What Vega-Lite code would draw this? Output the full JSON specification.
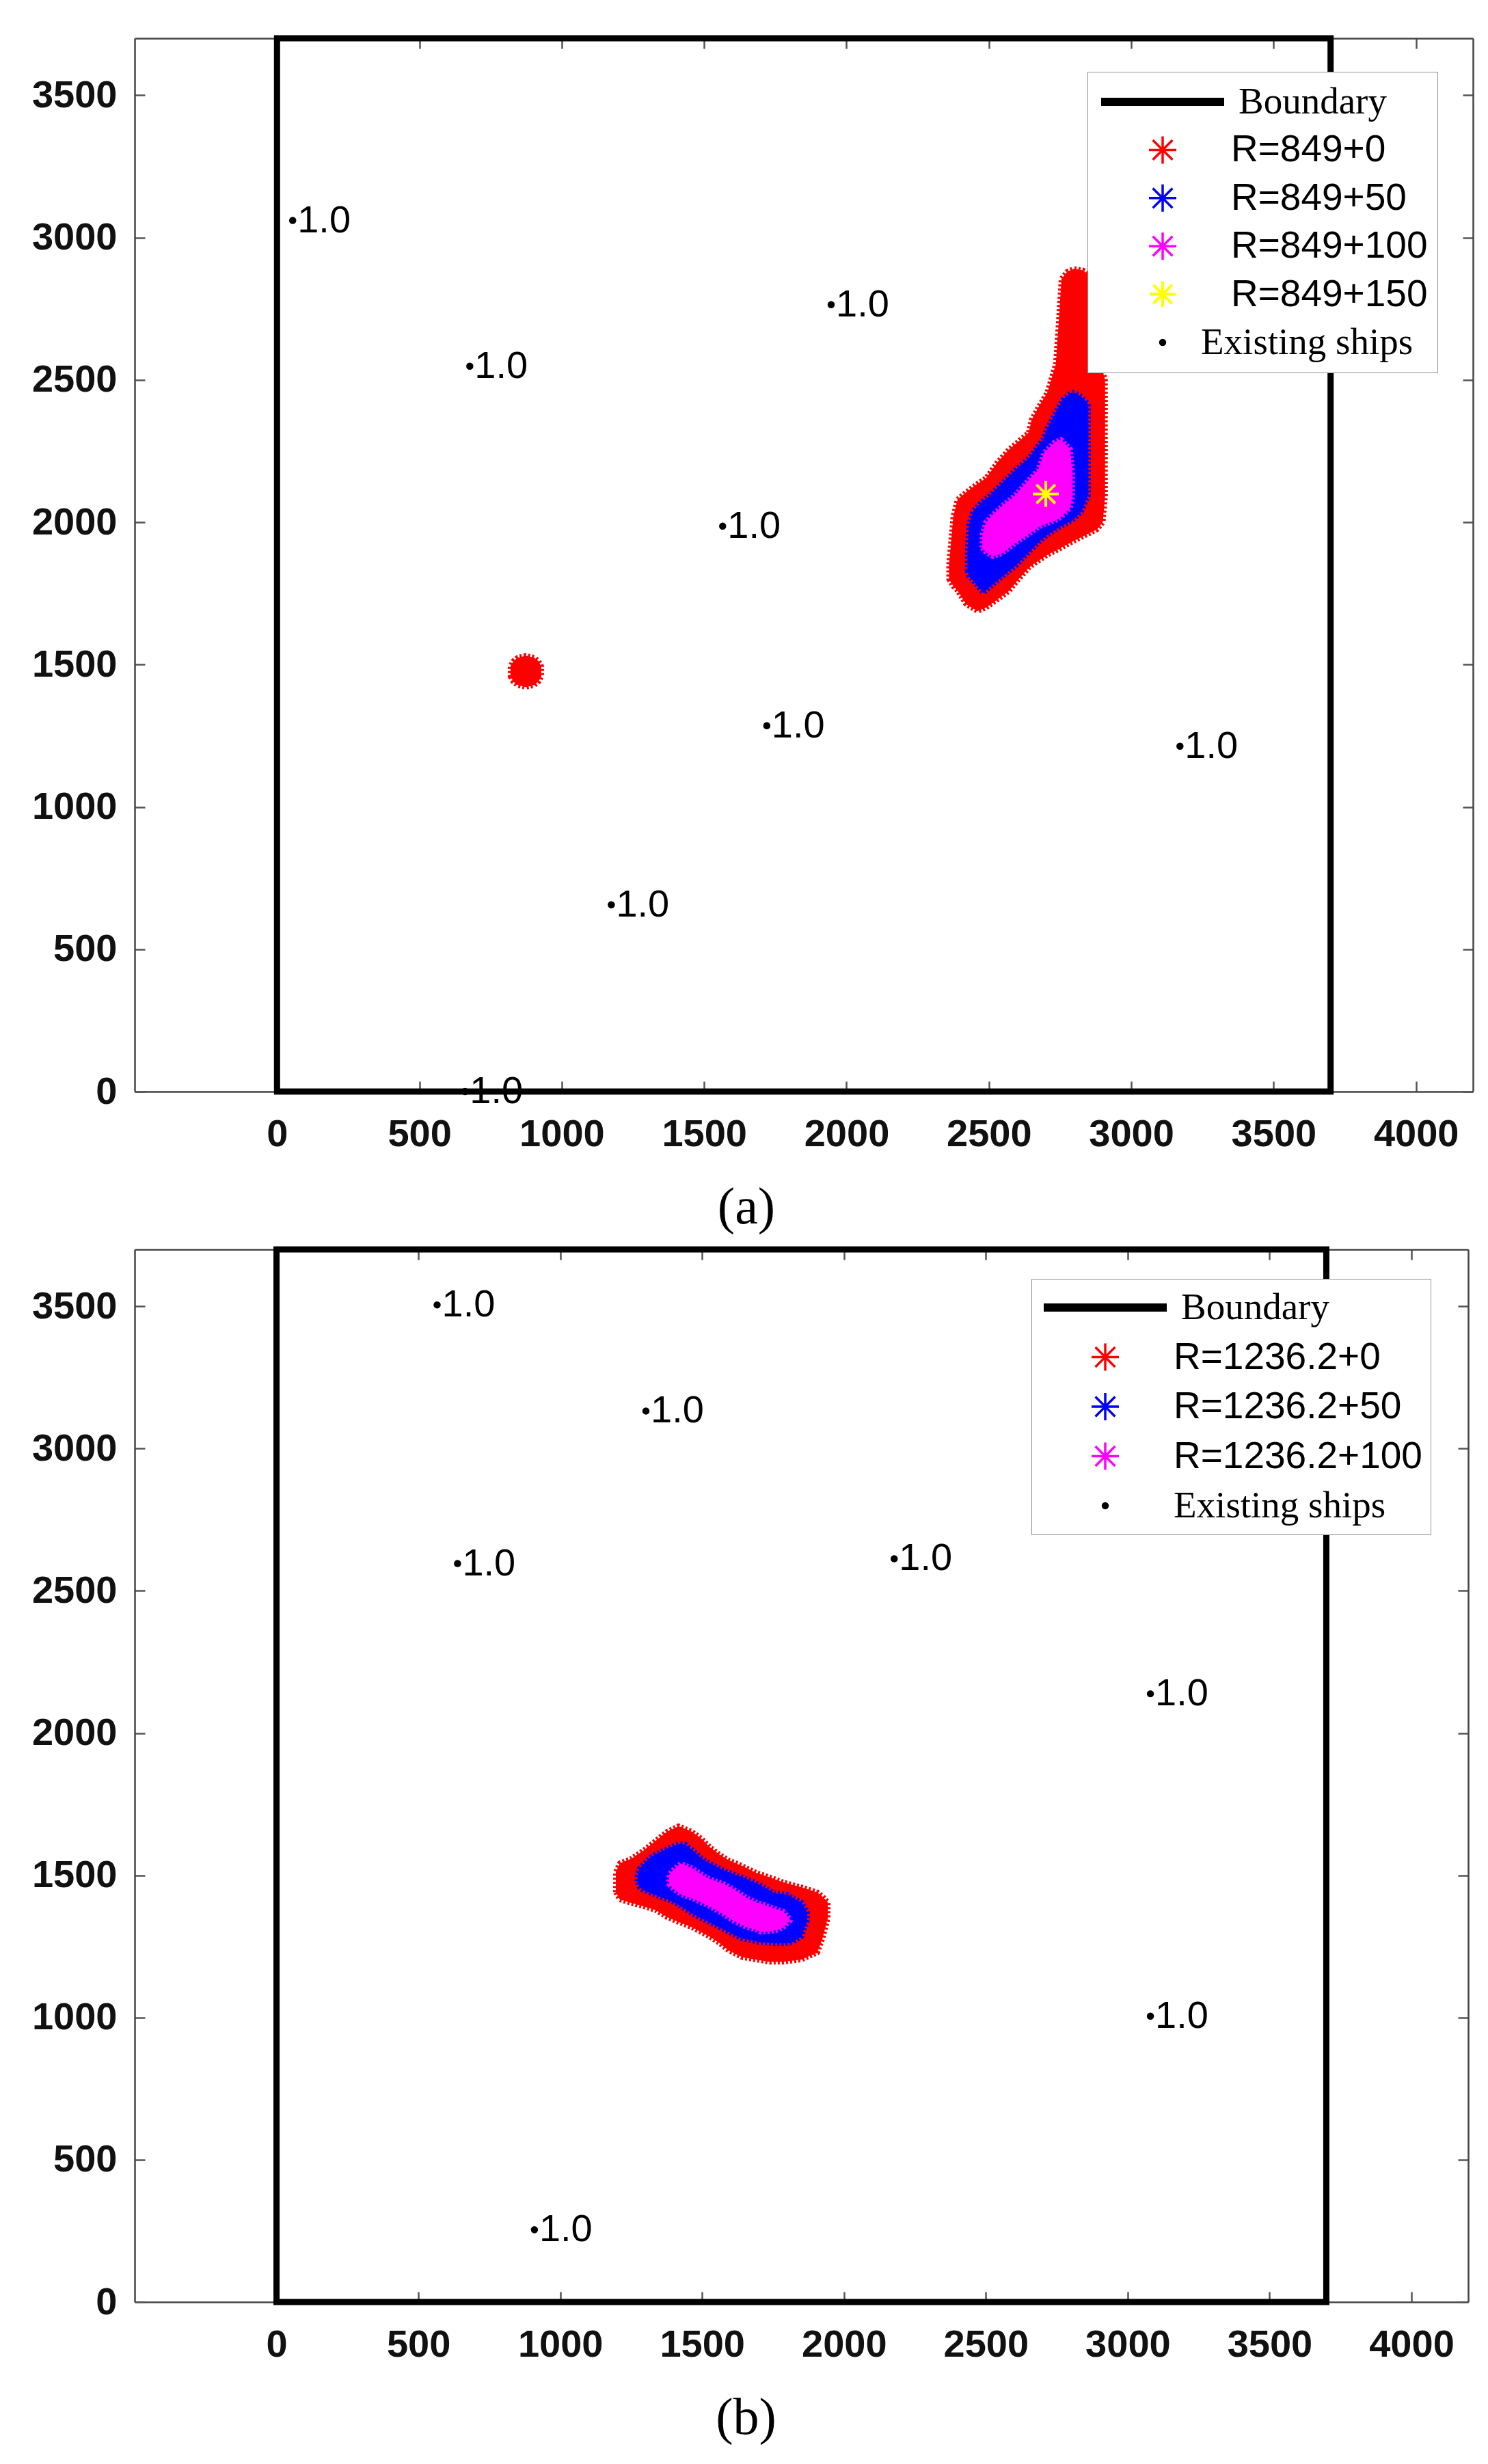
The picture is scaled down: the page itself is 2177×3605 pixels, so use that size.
{
  "$schema": "https://vega.github.io/schema/vega-lite/v6.json",
  "background": "white",
  "padding": {"left": 46, "top": 51, "right": 5, "bottom": 5},
  "config": {
    "font": "Liberation Sans",
    "view": {"stroke": null},
    "axis": {
      "grid": false,
      "domainColor": "#444444",
      "domainWidth": 2.5,
      "tickColor": "#555555",
      "tickWidth": 2.5,
      "tickSize": -15,
      "labelFont": "Liberation Sans",
      "labelFontSize": 56,
      "labelFontWeight": "bold",
      "labelColor": "#111111",
      "labelFlush": false,
      "labelOverlap": false,
      "format": "d"
    }
  },
  "datasets": {
    "boundaryA": [{"x0": 0, "x1": 3700, "y0": 0, "y1": 3700, "series": "Boundary"}],
    "boundaryB": [{"x0": 0, "x1": 3700, "y0": 0, "y1": 3700, "series": "Boundary"}],
    "regionsA": [
      {"series": "R=849+0", "part": "r1", "x": 2360, "lo": 1800, "hi": 1850},
      {"series": "R=849+0", "part": "r1", "x": 2375, "lo": 1775, "hi": 2020},
      {"series": "R=849+0", "part": "r1", "x": 2390, "lo": 1760, "hi": 2080},
      {"series": "R=849+0", "part": "r1", "x": 2420, "lo": 1712, "hi": 2105},
      {"series": "R=849+0", "part": "r1", "x": 2460, "lo": 1688, "hi": 2135},
      {"series": "R=849+0", "part": "r1", "x": 2490, "lo": 1700, "hi": 2155},
      {"series": "R=849+0", "part": "r1", "x": 2530, "lo": 1728, "hi": 2210},
      {"series": "R=849+0", "part": "r1", "x": 2570, "lo": 1758, "hi": 2255},
      {"series": "R=849+0", "part": "r1", "x": 2600, "lo": 1795, "hi": 2280},
      {"series": "R=849+0", "part": "r1", "x": 2640, "lo": 1840, "hi": 2315},
      {"series": "R=849+0", "part": "r1", "x": 2650, "lo": 1848, "hi": 2360},
      {"series": "R=849+0", "part": "r1", "x": 2675, "lo": 1865, "hi": 2405},
      {"series": "R=849+0", "part": "r1", "x": 2705, "lo": 1885, "hi": 2455},
      {"series": "R=849+0", "part": "r1", "x": 2720, "lo": 1893, "hi": 2505},
      {"series": "R=849+0", "part": "r1", "x": 2735, "lo": 1900, "hi": 2555},
      {"series": "R=849+0", "part": "r1", "x": 2745, "lo": 1905, "hi": 2700},
      {"series": "R=849+0", "part": "r1", "x": 2755, "lo": 1911, "hi": 2855},
      {"series": "R=849+0", "part": "r1", "x": 2775, "lo": 1922, "hi": 2880},
      {"series": "R=849+0", "part": "r1", "x": 2800, "lo": 1935, "hi": 2890},
      {"series": "R=849+0", "part": "r1", "x": 2830, "lo": 1950, "hi": 2885},
      {"series": "R=849+0", "part": "r1", "x": 2850, "lo": 1960, "hi": 2870},
      {"series": "R=849+0", "part": "r1", "x": 2856, "lo": 1963, "hi": 2540},
      {"series": "R=849+0", "part": "r1", "x": 2880, "lo": 1975, "hi": 2540},
      {"series": "R=849+0", "part": "r1", "x": 2900, "lo": 2000, "hi": 2530},
      {"series": "R=849+0", "part": "r1", "x": 2908, "lo": 2090, "hi": 2500},
      {"series": "R=849+0", "part": "r2", "x": 820, "lo": 1458, "hi": 1494},
      {"series": "R=849+0", "part": "r2", "x": 830, "lo": 1440, "hi": 1512},
      {"series": "R=849+0", "part": "r2", "x": 845, "lo": 1428, "hi": 1524},
      {"series": "R=849+0", "part": "r2", "x": 874, "lo": 1421, "hi": 1531},
      {"series": "R=849+0", "part": "r2", "x": 903, "lo": 1428, "hi": 1524},
      {"series": "R=849+0", "part": "r2", "x": 918, "lo": 1440, "hi": 1512},
      {"series": "R=849+0", "part": "r2", "x": 928, "lo": 1458, "hi": 1494},
      {"series": "R=849+50", "part": "b1", "x": 2425, "lo": 1830, "hi": 1900},
      {"series": "R=849+50", "part": "b1", "x": 2430, "lo": 1810, "hi": 1990},
      {"series": "R=849+50", "part": "b1", "x": 2445, "lo": 1795, "hi": 2040},
      {"series": "R=849+50", "part": "b1", "x": 2480, "lo": 1752, "hi": 2075},
      {"series": "R=849+50", "part": "b1", "x": 2500, "lo": 1770, "hi": 2090},
      {"series": "R=849+50", "part": "b1", "x": 2545, "lo": 1808, "hi": 2135},
      {"series": "R=849+50", "part": "b1", "x": 2595, "lo": 1848, "hi": 2185},
      {"series": "R=849+50", "part": "b1", "x": 2640, "lo": 1895, "hi": 2225},
      {"series": "R=849+50", "part": "b1", "x": 2675, "lo": 1930, "hi": 2272},
      {"series": "R=849+50", "part": "b1", "x": 2690, "lo": 1943, "hi": 2290},
      {"series": "R=849+50", "part": "b1", "x": 2705, "lo": 1955, "hi": 2328},
      {"series": "R=849+50", "part": "b1", "x": 2730, "lo": 1972, "hi": 2376},
      {"series": "R=849+50", "part": "b1", "x": 2760, "lo": 1990, "hi": 2432},
      {"series": "R=849+50", "part": "b1", "x": 2790, "lo": 2005, "hi": 2455},
      {"series": "R=849+50", "part": "b1", "x": 2800, "lo": 2012, "hi": 2455},
      {"series": "R=849+50", "part": "b1", "x": 2825, "lo": 2038, "hi": 2440},
      {"series": "R=849+50", "part": "b1", "x": 2849, "lo": 2095, "hi": 2415},
      {"series": "R=849+100", "part": "m1", "x": 2477, "lo": 1910, "hi": 1955},
      {"series": "R=849+100", "part": "m1", "x": 2490, "lo": 1895, "hi": 2000},
      {"series": "R=849+100", "part": "m1", "x": 2513, "lo": 1880, "hi": 2025},
      {"series": "R=849+100", "part": "m1", "x": 2545, "lo": 1890, "hi": 2055},
      {"series": "R=849+100", "part": "m1", "x": 2593, "lo": 1927, "hi": 2095},
      {"series": "R=849+100", "part": "m1", "x": 2635, "lo": 1955, "hi": 2143},
      {"series": "R=849+100", "part": "m1", "x": 2673, "lo": 1982, "hi": 2183},
      {"series": "R=849+100", "part": "m1", "x": 2695, "lo": 1993, "hi": 2245},
      {"series": "R=849+100", "part": "m1", "x": 2730, "lo": 2005, "hi": 2280},
      {"series": "R=849+100", "part": "m1", "x": 2753, "lo": 2018, "hi": 2290},
      {"series": "R=849+100", "part": "m1", "x": 2785, "lo": 2050, "hi": 2258},
      {"series": "R=849+100", "part": "m1", "x": 2793, "lo": 2090, "hi": 2175}
    ],
    "starA": [{"series": "R=849+150", "x": 2700, "y": 2099}],
    "shipsA": [
      {"series": "Existing ships", "x": 55, "y": 3060, "label": "1.0"},
      {"series": "Existing ships", "x": 677, "y": 2548, "label": "1.0"},
      {"series": "Existing ships", "x": 1946, "y": 2764, "label": "1.0"},
      {"series": "Existing ships", "x": 1565, "y": 1986, "label": "1.0"},
      {"series": "Existing ships", "x": 1720, "y": 1285, "label": "1.0"},
      {"series": "Existing ships", "x": 3171, "y": 1213, "label": "1.0"},
      {"series": "Existing ships", "x": 1174, "y": 656, "label": "1.0"},
      {"series": "Existing ships", "x": 660, "y": 0, "label": "1.0"}
    ],
    "regionsB": [
      {"series": "R=1236.2+0", "part": "r1", "x": 1196, "lo": 1440, "hi": 1512},
      {"series": "R=1236.2+0", "part": "r1", "x": 1210, "lo": 1415, "hi": 1542},
      {"series": "R=1236.2+0", "part": "r1", "x": 1250, "lo": 1403, "hi": 1558},
      {"series": "R=1236.2+0", "part": "r1", "x": 1296, "lo": 1390, "hi": 1589},
      {"series": "R=1236.2+0", "part": "r1", "x": 1336, "lo": 1378, "hi": 1621},
      {"series": "R=1236.2+0", "part": "r1", "x": 1376, "lo": 1353, "hi": 1653},
      {"series": "R=1236.2+0", "part": "r1", "x": 1417, "lo": 1336, "hi": 1673},
      {"series": "R=1236.2+0", "part": "r1", "x": 1465, "lo": 1317, "hi": 1653},
      {"series": "R=1236.2+0", "part": "r1", "x": 1497, "lo": 1300, "hi": 1629},
      {"series": "R=1236.2+0", "part": "r1", "x": 1529, "lo": 1283, "hi": 1597},
      {"series": "R=1236.2+0", "part": "r1", "x": 1561, "lo": 1262, "hi": 1573},
      {"series": "R=1236.2+0", "part": "r1", "x": 1593, "lo": 1236, "hi": 1553},
      {"series": "R=1236.2+0", "part": "r1", "x": 1641, "lo": 1212, "hi": 1533},
      {"series": "R=1236.2+0", "part": "r1", "x": 1690, "lo": 1204, "hi": 1509},
      {"series": "R=1236.2+0", "part": "r1", "x": 1738, "lo": 1196, "hi": 1493},
      {"series": "R=1236.2+0", "part": "r1", "x": 1786, "lo": 1196, "hi": 1475},
      {"series": "R=1236.2+0", "part": "r1", "x": 1850, "lo": 1204, "hi": 1458},
      {"series": "R=1236.2+0", "part": "r1", "x": 1906, "lo": 1228, "hi": 1440},
      {"series": "R=1236.2+0", "part": "r1", "x": 1925, "lo": 1280, "hi": 1425},
      {"series": "R=1236.2+0", "part": "r1", "x": 1943, "lo": 1350, "hi": 1405},
      {"series": "R=1236.2+50", "part": "b1", "x": 1272, "lo": 1475, "hi": 1500},
      {"series": "R=1236.2+50", "part": "b1", "x": 1280, "lo": 1458, "hi": 1525},
      {"series": "R=1236.2+50", "part": "b1", "x": 1290, "lo": 1450, "hi": 1535},
      {"series": "R=1236.2+50", "part": "b1", "x": 1320, "lo": 1437, "hi": 1565},
      {"series": "R=1236.2+50", "part": "b1", "x": 1384, "lo": 1413, "hi": 1597},
      {"series": "R=1236.2+50", "part": "b1", "x": 1420, "lo": 1395, "hi": 1610},
      {"series": "R=1236.2+50", "part": "b1", "x": 1441, "lo": 1381, "hi": 1608},
      {"series": "R=1236.2+50", "part": "b1", "x": 1465, "lo": 1366, "hi": 1589},
      {"series": "R=1236.2+50", "part": "b1", "x": 1497, "lo": 1349, "hi": 1560},
      {"series": "R=1236.2+50", "part": "b1", "x": 1513, "lo": 1341, "hi": 1549},
      {"series": "R=1236.2+50", "part": "b1", "x": 1561, "lo": 1317, "hi": 1525},
      {"series": "R=1236.2+50", "part": "b1", "x": 1577, "lo": 1309, "hi": 1517},
      {"series": "R=1236.2+50", "part": "b1", "x": 1625, "lo": 1285, "hi": 1498},
      {"series": "R=1236.2+50", "part": "b1", "x": 1641, "lo": 1278, "hi": 1493},
      {"series": "R=1236.2+50", "part": "b1", "x": 1698, "lo": 1266, "hi": 1469},
      {"series": "R=1236.2+50", "part": "b1", "x": 1754, "lo": 1261, "hi": 1437},
      {"series": "R=1236.2+50", "part": "b1", "x": 1802, "lo": 1261, "hi": 1432},
      {"series": "R=1236.2+50", "part": "b1", "x": 1818, "lo": 1265, "hi": 1421},
      {"series": "R=1236.2+50", "part": "b1", "x": 1850, "lo": 1285, "hi": 1405},
      {"series": "R=1236.2+50", "part": "b1", "x": 1870, "lo": 1341, "hi": 1370},
      {"series": "R=1236.2+100", "part": "m1", "x": 1384, "lo": 1468, "hi": 1502},
      {"series": "R=1236.2+100", "part": "m1", "x": 1400, "lo": 1452, "hi": 1520},
      {"series": "R=1236.2+100", "part": "m1", "x": 1425, "lo": 1433, "hi": 1541},
      {"series": "R=1236.2+100", "part": "m1", "x": 1465, "lo": 1419, "hi": 1525},
      {"series": "R=1236.2+100", "part": "m1", "x": 1513, "lo": 1398, "hi": 1493},
      {"series": "R=1236.2+100", "part": "m1", "x": 1545, "lo": 1381, "hi": 1480},
      {"series": "R=1236.2+100", "part": "m1", "x": 1577, "lo": 1362, "hi": 1469},
      {"series": "R=1236.2+100", "part": "m1", "x": 1609, "lo": 1341, "hi": 1452},
      {"series": "R=1236.2+100", "part": "m1", "x": 1633, "lo": 1330, "hi": 1437},
      {"series": "R=1236.2+100", "part": "m1", "x": 1658, "lo": 1317, "hi": 1420},
      {"series": "R=1236.2+100", "part": "m1", "x": 1690, "lo": 1309, "hi": 1405},
      {"series": "R=1236.2+100", "part": "m1", "x": 1706, "lo": 1301, "hi": 1400},
      {"series": "R=1236.2+100", "part": "m1", "x": 1738, "lo": 1303, "hi": 1389},
      {"series": "R=1236.2+100", "part": "m1", "x": 1770, "lo": 1309, "hi": 1378},
      {"series": "R=1236.2+100", "part": "m1", "x": 1786, "lo": 1318, "hi": 1373},
      {"series": "R=1236.2+100", "part": "m1", "x": 1810, "lo": 1341, "hi": 1345}
    ],
    "shipsB": [
      {"series": "Existing ships", "x": 566, "y": 3505, "label": "1.0"},
      {"series": "Existing ships", "x": 1302, "y": 3132, "label": "1.0"},
      {"series": "Existing ships", "x": 638, "y": 2596, "label": "1.0"},
      {"series": "Existing ships", "x": 2177, "y": 2613, "label": "1.0"},
      {"series": "Existing ships", "x": 3080, "y": 2138, "label": "1.0"},
      {"series": "Existing ships", "x": 3080, "y": 1005, "label": "1.0"},
      {"series": "Existing ships", "x": 909, "y": 254, "label": "1.0"}
    ]
  },
  "resolve": {"scale": {"color": "independent", "shape": "independent", "size": "independent", "strokeWidth": "independent"}, "legend": {"color": "independent", "shape": "independent", "size": "independent", "strokeWidth": "independent"}},
  "spacing": 18,
  "vconcat": [
    {
      "width": 1958,
      "height": 1541,
      "title": {"text": "(a)", "orient": "bottom", "anchor": "middle", "dx": -84, "offset": 43, "font": "Liberation Serif", "fontSize": 76, "fontWeight": "normal", "color": "black"},
      "resolve": {"axis": {"x": "independent", "y": "independent"}},
      "layer": [
        {
          "data": {"name": "boundaryA"},
          "mark": {"type": "rect", "filled": false, "strokeWidth": 9},
          "encoding": {
            "x": {"field": "x0", "type": "quantitative", "scale": {"domain": [-500, 4200], "nice": false, "zero": false},
                  "axis": {"orient": "bottom", "title": null, "values": [0, 500, 1000, 1500, 2000, 2500, 3000, 3500, 4000], "labelPadding": 50}},
            "x2": {"field": "x1"},
            "y": {"field": "y0", "type": "quantitative", "scale": {"domain": [0, 3700], "nice": false, "zero": false},
                  "axis": {"orient": "left", "title": null, "values": [0, 500, 1000, 1500, 2000, 2500, 3000, 3500], "labelPadding": 41}},
            "y2": {"field": "y1"},
            "color": {
              "field": "series", "type": "nominal",
              "scale": {"domain": ["Boundary", "R=849+0", "R=849+50", "R=849+100", "R=849+150", "Existing ships"], "range": ["#000000", "#ff0000", "#0000ff", "#ff00ff", "#ffff00", "#000000"]},
              "legend": {
                "title": null,
                "orient": "none",
                "legendX": 1394,
                "legendY": 49,
                "padding": 14,
                "fillColor": "white",
                "strokeColor": "#8f8f8f",
                "clipHeight": 60,
                "rowPadding": 10.4,
                "labelLimit": 800,
                "labelColor": "black",
                "labelFontSize": 55,
                "labelFont": {"expr": "datum.value === 'Boundary' || datum.value === 'Existing ships' ? 'Liberation Serif' : 'Liberation Sans'"},
                "labelOffset": {"expr": "datum.value === 'Boundary' ? 15 : datum.value === 'Existing ships' ? -40 : 4"}
              }
            }
          }
        },
        {
          "data": {"name": "regionsA"},
          "transform": [{"filter": "datum.series === 'R=849+0'"}],
          "mark": {"type": "area", "stroke": "#ff0000", "strokeWidth": 8, "strokeDash": [3, 3], "strokeJoin": "round", "opacity": 1},
          "encoding": {
            "x": {"field": "x", "type": "quantitative", "scale": {"domain": [-500, 4200], "nice": false, "zero": false}, "axis": null},
            "y": {"field": "lo", "type": "quantitative", "scale": {"domain": [0, 3700], "nice": false, "zero": false}, "axis": null},
            "y2": {"field": "hi"},
            "detail": {"field": "part", "type": "nominal"},
            "color": {"field": "series", "type": "nominal", "scale": {"domain": ["Boundary", "R=849+0", "R=849+50", "R=849+100", "R=849+150", "Existing ships"], "range": ["#000000", "#ff0000", "#0000ff", "#ff00ff", "#ffff00", "#000000"]}}
          }
        },
        {
          "data": {"name": "regionsA"},
          "transform": [{"filter": "datum.series === 'R=849+50'"}],
          "mark": {"type": "area", "stroke": "#0000ff", "strokeWidth": 8, "strokeDash": [3, 3], "strokeJoin": "round", "opacity": 1},
          "encoding": {
            "x": {"field": "x", "type": "quantitative", "scale": {"domain": [-500, 4200], "nice": false, "zero": false}, "axis": null},
            "y": {"field": "lo", "type": "quantitative", "scale": {"domain": [0, 3700], "nice": false, "zero": false}, "axis": null},
            "y2": {"field": "hi"},
            "detail": {"field": "part", "type": "nominal"},
            "color": {"field": "series", "type": "nominal", "scale": {"domain": ["Boundary", "R=849+0", "R=849+50", "R=849+100", "R=849+150", "Existing ships"], "range": ["#000000", "#ff0000", "#0000ff", "#ff00ff", "#ffff00", "#000000"]}}
          }
        },
        {
          "data": {"name": "regionsA"},
          "transform": [{"filter": "datum.series === 'R=849+100'"}],
          "mark": {"type": "area", "stroke": "#ff00ff", "strokeWidth": 8, "strokeDash": [3, 3], "strokeJoin": "round", "opacity": 1},
          "encoding": {
            "x": {"field": "x", "type": "quantitative", "scale": {"domain": [-500, 4200], "nice": false, "zero": false}, "axis": null},
            "y": {"field": "lo", "type": "quantitative", "scale": {"domain": [0, 3700], "nice": false, "zero": false}, "axis": null},
            "y2": {"field": "hi"},
            "detail": {"field": "part", "type": "nominal"},
            "color": {"field": "series", "type": "nominal", "scale": {"domain": ["Boundary", "R=849+0", "R=849+50", "R=849+100", "R=849+150", "Existing ships"], "range": ["#000000", "#ff0000", "#0000ff", "#ff00ff", "#ffff00", "#000000"]}}
          }
        },
        {
          "data": {"name": "starA"},
          "mark": {"type": "point", "filled": false, "opacity": 1},
          "encoding": {
            "x": {"field": "x", "type": "quantitative", "scale": {"domain": [-500, 4200], "nice": false, "zero": false}, "axis": null},
            "y": {"field": "y", "type": "quantitative", "scale": {"domain": [0, 3700], "nice": false, "zero": false}, "axis": null},
            "color": {"field": "series", "type": "nominal", "scale": {"domain": ["Boundary", "R=849+0", "R=849+50", "R=849+100", "R=849+150", "Existing ships"], "range": ["#000000", "#ff0000", "#0000ff", "#ff00ff", "#ffff00", "#000000"]}},
            "shape": {"field": "series", "type": "nominal", "scale": {"type": "ordinal", "domain": ["Boundary", "R=849+0", "R=849+50", "R=849+100", "R=849+150", "Existing ships"], "range": ["stroke", "M-1,0L1,0M0,-1L0,1M-0.72,-0.72L0.72,0.72M-0.72,0.72L0.72,-0.72", "M-1,0L1,0M0,-1L0,1M-0.72,-0.72L0.72,0.72M-0.72,0.72L0.72,-0.72", "M-1,0L1,0M0,-1L0,1M-0.72,-0.72L0.72,0.72M-0.72,0.72L0.72,-0.72", "M-1,0L1,0M0,-1L0,1M-0.72,-0.72L0.72,0.72M-0.72,0.72L0.72,-0.72", "circle"]}, "legend": {"title": null}},
            "size": {"field": "series", "type": "nominal", "scale": {"type": "ordinal", "domain": ["Boundary", "R=849+0", "R=849+50", "R=849+100", "R=849+150", "Existing ships"], "range": [32400, 1600, 1600, 1600, 1444, 110]}, "legend": {"title": null}},
            "strokeWidth": {"field": "series", "type": "nominal", "scale": {"type": "ordinal", "domain": ["Boundary", "R=849+0", "R=849+50", "R=849+100", "R=849+150", "Existing ships"], "range": [12, 3.5, 3.5, 3.5, 4, 0]}, "legend": {"title": null}}
          }
        },
        {
          "data": {"name": "shipsA"},
          "mark": {"type": "point", "filled": true, "opacity": 1},
          "encoding": {
            "x": {"field": "x", "type": "quantitative", "scale": {"domain": [-500, 4200], "nice": false, "zero": false},
                  "axis": {"orient": "top", "title": null, "labels": false, "values": [0, 500, 1000, 1500, 2000, 2500, 3000, 3500, 4000]}},
            "y": {"field": "y", "type": "quantitative", "scale": {"domain": [0, 3700], "nice": false, "zero": false},
                  "axis": {"orient": "right", "title": null, "labels": false, "values": [0, 500, 1000, 1500, 2000, 2500, 3000, 3500]}},
            "color": {"field": "series", "type": "nominal", "scale": {"domain": ["Boundary", "R=849+0", "R=849+50", "R=849+100", "R=849+150", "Existing ships"], "range": ["#000000", "#ff0000", "#0000ff", "#ff00ff", "#ffff00", "#000000"]}},
            "shape": {"field": "series", "type": "nominal", "scale": {"type": "ordinal", "domain": ["Boundary", "R=849+0", "R=849+50", "R=849+100", "R=849+150", "Existing ships"], "range": ["stroke", "M-1,0L1,0M0,-1L0,1M-0.72,-0.72L0.72,0.72M-0.72,0.72L0.72,-0.72", "M-1,0L1,0M0,-1L0,1M-0.72,-0.72L0.72,0.72M-0.72,0.72L0.72,-0.72", "M-1,0L1,0M0,-1L0,1M-0.72,-0.72L0.72,0.72M-0.72,0.72L0.72,-0.72", "M-1,0L1,0M0,-1L0,1M-0.72,-0.72L0.72,0.72M-0.72,0.72L0.72,-0.72", "circle"]}, "legend": {"title": null}},
            "size": {"field": "series", "type": "nominal", "scale": {"type": "ordinal", "domain": ["Boundary", "R=849+0", "R=849+50", "R=849+100", "R=849+150", "Existing ships"], "range": [32400, 1600, 1600, 1600, 1444, 110]}, "legend": {"title": null}},
            "strokeWidth": {"field": "series", "type": "nominal", "scale": {"type": "ordinal", "domain": ["Boundary", "R=849+0", "R=849+50", "R=849+100", "R=849+150", "Existing ships"], "range": [12, 3.5, 3.5, 3.5, 4, 0]}, "legend": {"title": null}}
          }
        },
        {
          "data": {"name": "shipsA"},
          "mark": {"type": "text", "align": "left", "baseline": "middle", "dx": 7, "fontSize": 56, "font": "Liberation Sans", "color": "#000000"},
          "encoding": {
            "x": {"field": "x", "type": "quantitative", "scale": {"domain": [-500, 4200], "nice": false, "zero": false}, "axis": null},
            "y": {"field": "y", "type": "quantitative", "scale": {"domain": [0, 3700], "nice": false, "zero": false}, "axis": null},
            "text": {"field": "label"}
          }
        }
      ]
    },
    {
      "width": 1951,
      "height": 1540,
      "title": {"text": "(b)", "orient": "bottom", "anchor": "middle", "dx": -81, "offset": 43, "font": "Liberation Serif", "fontSize": 76, "fontWeight": "normal", "color": "black"},
      "resolve": {"axis": {"x": "independent", "y": "independent"}},
      "layer": [
        {
          "data": {"name": "boundaryB"},
          "mark": {"type": "rect", "filled": false, "strokeWidth": 9},
          "encoding": {
            "x": {"field": "x0", "type": "quantitative", "scale": {"domain": [-500, 4200], "nice": false, "zero": false},
                  "axis": {"orient": "bottom", "title": null, "values": [0, 500, 1000, 1500, 2000, 2500, 3000, 3500, 4000], "labelPadding": 50}},
            "x2": {"field": "x1"},
            "y": {"field": "y0", "type": "quantitative", "scale": {"domain": [0, 3700], "nice": false, "zero": false},
                  "axis": {"orient": "left", "title": null, "values": [0, 500, 1000, 1500, 2000, 2500, 3000, 3500], "labelPadding": 41}},
            "y2": {"field": "y1"},
            "color": {
              "field": "series", "type": "nominal",
              "scale": {"domain": ["Boundary", "R=1236.2+0", "R=1236.2+50", "R=1236.2+100", "Existing ships"], "range": ["#000000", "#ff0000", "#0000ff", "#ff00ff", "#000000"]},
              "legend": {
                "title": null,
                "orient": "none",
                "legendX": 1312,
                "legendY": 43,
                "padding": 12,
                "fillColor": "white",
                "strokeColor": "#8f8f8f",
                "clipHeight": 60,
                "rowPadding": 12.5,
                "labelLimit": 800,
                "labelColor": "black",
                "labelFontSize": 55,
                "labelFont": {"expr": "datum.value === 'Boundary' || datum.value === 'Existing ships' ? 'Liberation Serif' : 'Liberation Sans'"},
                "labelOffset": {"expr": "datum.value === 'Boundary' ? 15 : 4"}
              }
            }
          }
        },
        {
          "data": {"name": "regionsB"},
          "transform": [{"filter": "datum.series === 'R=1236.2+0'"}],
          "mark": {"type": "area", "stroke": "#ff0000", "strokeWidth": 8, "strokeDash": [3, 3], "strokeJoin": "round", "opacity": 1},
          "encoding": {
            "x": {"field": "x", "type": "quantitative", "scale": {"domain": [-500, 4200], "nice": false, "zero": false}, "axis": null},
            "y": {"field": "lo", "type": "quantitative", "scale": {"domain": [0, 3700], "nice": false, "zero": false}, "axis": null},
            "y2": {"field": "hi"},
            "detail": {"field": "part", "type": "nominal"},
            "color": {"field": "series", "type": "nominal", "scale": {"domain": ["Boundary", "R=1236.2+0", "R=1236.2+50", "R=1236.2+100", "Existing ships"], "range": ["#000000", "#ff0000", "#0000ff", "#ff00ff", "#000000"]}}
          }
        },
        {
          "data": {"name": "regionsB"},
          "transform": [{"filter": "datum.series === 'R=1236.2+50'"}],
          "mark": {"type": "area", "stroke": "#0000ff", "strokeWidth": 8, "strokeDash": [3, 3], "strokeJoin": "round", "opacity": 1},
          "encoding": {
            "x": {"field": "x", "type": "quantitative", "scale": {"domain": [-500, 4200], "nice": false, "zero": false}, "axis": null},
            "y": {"field": "lo", "type": "quantitative", "scale": {"domain": [0, 3700], "nice": false, "zero": false}, "axis": null},
            "y2": {"field": "hi"},
            "detail": {"field": "part", "type": "nominal"},
            "color": {"field": "series", "type": "nominal", "scale": {"domain": ["Boundary", "R=1236.2+0", "R=1236.2+50", "R=1236.2+100", "Existing ships"], "range": ["#000000", "#ff0000", "#0000ff", "#ff00ff", "#000000"]}}
          }
        },
        {
          "data": {"name": "regionsB"},
          "transform": [{"filter": "datum.series === 'R=1236.2+100'"}],
          "mark": {"type": "area", "stroke": "#ff00ff", "strokeWidth": 8, "strokeDash": [3, 3], "strokeJoin": "round", "opacity": 1},
          "encoding": {
            "x": {"field": "x", "type": "quantitative", "scale": {"domain": [-500, 4200], "nice": false, "zero": false}, "axis": null},
            "y": {"field": "lo", "type": "quantitative", "scale": {"domain": [0, 3700], "nice": false, "zero": false}, "axis": null},
            "y2": {"field": "hi"},
            "detail": {"field": "part", "type": "nominal"},
            "color": {"field": "series", "type": "nominal", "scale": {"domain": ["Boundary", "R=1236.2+0", "R=1236.2+50", "R=1236.2+100", "Existing ships"], "range": ["#000000", "#ff0000", "#0000ff", "#ff00ff", "#000000"]}}
          }
        },
        {
          "data": {"name": "shipsB"},
          "mark": {"type": "point", "filled": true, "opacity": 1},
          "encoding": {
            "x": {"field": "x", "type": "quantitative", "scale": {"domain": [-500, 4200], "nice": false, "zero": false},
                  "axis": {"orient": "top", "title": null, "labels": false, "values": [0, 500, 1000, 1500, 2000, 2500, 3000, 3500, 4000]}},
            "y": {"field": "y", "type": "quantitative", "scale": {"domain": [0, 3700], "nice": false, "zero": false},
                  "axis": {"orient": "right", "title": null, "labels": false, "values": [0, 500, 1000, 1500, 2000, 2500, 3000, 3500]}},
            "color": {"field": "series", "type": "nominal", "scale": {"domain": ["Boundary", "R=1236.2+0", "R=1236.2+50", "R=1236.2+100", "Existing ships"], "range": ["#000000", "#ff0000", "#0000ff", "#ff00ff", "#000000"]}},
            "shape": {"field": "series", "type": "nominal", "scale": {"type": "ordinal", "domain": ["Boundary", "R=1236.2+0", "R=1236.2+50", "R=1236.2+100", "Existing ships"], "range": ["stroke", "M-1,0L1,0M0,-1L0,1M-0.72,-0.72L0.72,0.72M-0.72,0.72L0.72,-0.72", "M-1,0L1,0M0,-1L0,1M-0.72,-0.72L0.72,0.72M-0.72,0.72L0.72,-0.72", "M-1,0L1,0M0,-1L0,1M-0.72,-0.72L0.72,0.72M-0.72,0.72L0.72,-0.72", "circle"]}, "legend": {"title": null}},
            "size": {"field": "series", "type": "nominal", "scale": {"type": "ordinal", "domain": ["Boundary", "R=1236.2+0", "R=1236.2+50", "R=1236.2+100", "Existing ships"], "range": [32400, 1600, 1600, 1600, 110]}, "legend": {"title": null}},
            "strokeWidth": {"field": "series", "type": "nominal", "scale": {"type": "ordinal", "domain": ["Boundary", "R=1236.2+0", "R=1236.2+50", "R=1236.2+100", "Existing ships"], "range": [12, 3.5, 3.5, 3.5, 0]}, "legend": {"title": null}}
          }
        },
        {
          "data": {"name": "shipsB"},
          "mark": {"type": "text", "align": "left", "baseline": "middle", "dx": 7, "fontSize": 56, "font": "Liberation Sans", "color": "#000000"},
          "encoding": {
            "x": {"field": "x", "type": "quantitative", "scale": {"domain": [-500, 4200], "nice": false, "zero": false}, "axis": null},
            "y": {"field": "y", "type": "quantitative", "scale": {"domain": [0, 3700], "nice": false, "zero": false}, "axis": null},
            "text": {"field": "label"}
          }
        }
      ]
    }
  ]
}
